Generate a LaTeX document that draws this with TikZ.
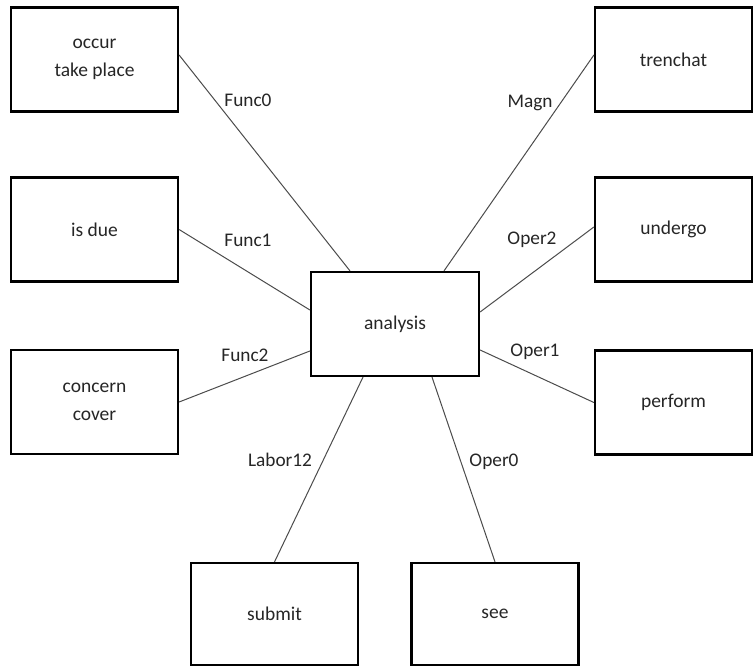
\documentclass[tikz,border=0pt]{standalone}
\usepackage{fontspec}
\setmainfont{Carlito}
\begin{document}
\begin{tikzpicture}[x=1pt,y=-1pt,
  box/.style={draw=black, line width=2.2pt, minimum width=#1, minimum height=104pt,
    inner sep=0pt, align=center, font=\fontsize{19.5}{28}\selectfont, text=black!85},
  box/.default=167pt,
  link/.style={draw=black!70, line width=1pt},
  lbl/.style={inner sep=0pt, font=\fontsize{19.3}{23}\selectfont, text=black!85}]
\useasboundingbox (0,0) rectangle (754,666);
\fill[white] (0,0) rectangle (754,666);
% boxes
\node[box] (occur) at (94.5,59.5) {occur\\take place};
\node[box] (isdue) at (94.5,229.5) {is due};
\node[box] (concern) at (94.5,402) {concern\\cover};
\node[box=157pt] (trenchat) at (673.5,59.5) {trenchat};
\node[box=157pt] (undergo) at (673.5,229.5) {undergo};
\node[box=157pt] (perform) at (673.5,402.5) {perform};
\node[box=168pt] (analysis) at (395,324) {analysis};
\node[box, minimum height=102pt] (submit) at (274.5,614) {submit};
\node[box, minimum height=102pt] (see) at (495,614) {see};
% connectors
\draw[link] ([yshift=4.5pt]occur.east) -- ([xshift=-45pt]analysis.north);
\draw[link] (isdue.east) -- ([yshift=14pt]analysis.west);
\draw[link] (concern.east) -- ([yshift=-27pt]analysis.west);
\draw[link] ([xshift=49pt]analysis.north) -- ([yshift=4.5pt]trenchat.west);
\draw[link] ([yshift=12pt]analysis.east) -- ([yshift=2.5pt]undergo.west);
\draw[link] ([yshift=-26pt]analysis.east) -- (perform.west);
\draw[link] ([xshift=-32pt]analysis.south) -- (submit.north);
\draw[link] ([xshift=37pt]analysis.south) -- (see.north);
% labels
\node[lbl] (lf0) at (248,100) {Func0};
\node[lbl] (lf1) at (248,240) {Func1};
\node[lbl] (lf2) at (245,355) {Func2};
\node[lbl] (lmagn) at (530,103) {Magn};
\node[lbl] (lo2) at (532,240) {Oper2};
\node[lbl] (lo1) at (535,352) {Oper1};
\node[lbl] (ll12) at (280,460) {Labor12};
\node[lbl] (lo0) at (494,462) {Oper0};
\end{tikzpicture}
\end{document}
